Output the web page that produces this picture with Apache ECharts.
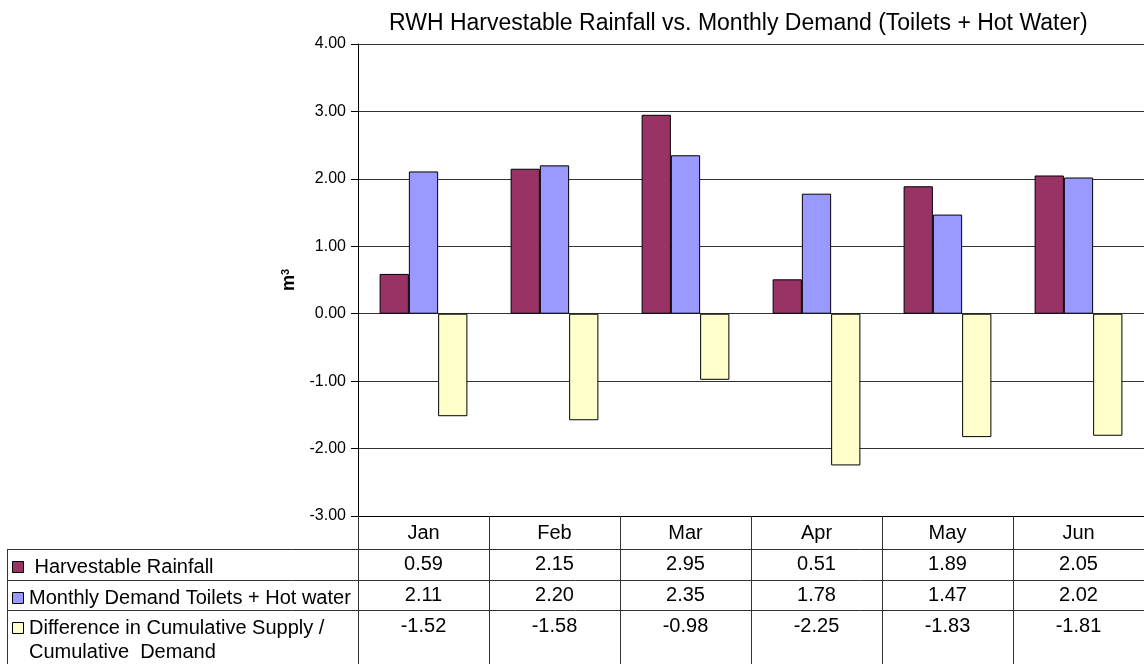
<!DOCTYPE html>
<html>
<head>
<meta charset="utf-8">
<title>RWH Harvestable Rainfall vs. Monthly Demand</title>
<script src="https://cdn.jsdelivr.net/npm/echarts@6/dist/echarts.min.js"></script>
<style>
  html, body { margin: 0; padding: 0; background: #fff; }
  #chart { width: 1144px; height: 664px; }
</style>
</head>
<body>
<div id="chart"></div>
<script>
// Datos
const months = ["Jan", "Feb", "Mar", "Apr", "May", "Jun"];
const harvestable = [0.59, 2.15, 2.95, 0.51, 1.89, 2.05];
const demand = [2.11, 2.2, 2.35, 1.78, 1.47, 2.02];
const difference = [-1.52, -1.58, -0.98, -2.25, -1.83, -1.81];
const seriesNames = [
  "Harvestable Rainfall",
  "Monthly Demand Toilets + Hot water",
  "Difference in Cumulative Supply / Cumulative  Demand",
];
// texto de la tabla (columna izquierda), tal como aparece
const tableRowLabels = [
  [" Harvestable Rainfall"],
  ["Monthly Demand Toilets + Hot water"],
  ["Difference in Cumulative Supply /", "Cumulative  Demand"],
];
const colors = ["#993366", "#9999FF", "#FFFFCC"];
const yMin = -3, yMax = 4, yStep = 1;

const FONT = "'Liberation Sans', Arial, sans-serif";
const chart = echarts.init(document.getElementById("chart"));

const rows = [harvestable, demand, difference];

// Columna de leyenda de la tabla de datos
const legendGraphics = [];
const rowTops = [549, 580, 610];
tableRowLabels.forEach((lines, i) => {
  const top = rowTops[i];
  legendGraphics.push({
    type: "rect",
    shape: { x: 12.5, y: top + 12.5, width: 11, height: 11 },
    style: { fill: colors[i], stroke: "#000", lineWidth: 1 },
  });
  lines.forEach((t, j) => {
    legendGraphics.push({
      type: "text",
      x: 29,
      y: top + 18 + j * 24,
      style: {
        text: t,
        font: "20px " + FONT,
        fill: "#000",
        verticalAlign: "middle",
      },
    });
  });
});

// Lineas horizontales de la tabla
const tableLines = [549, 580, 610].map((y) => ({
  type: "line",
  shape: { x1: 7, y1: y + 0.5, x2: 1144, y2: y + 0.5 },
  style: { stroke: "#333", lineWidth: 1 },
}));
tableLines.push({
  type: "line",
  shape: { x1: 7.5, y1: 549, x2: 7.5, y2: 664 },
  style: { stroke: "#333", lineWidth: 1 },
});

const option = {
  animation: false,
  textStyle: { fontFamily: FONT, color: "#000" },
  title: {
    text: "RWH Harvestable Rainfall vs. Monthly Demand (Toilets + Hot Water)",
    left: 384,
    top: 7,
    textStyle: { fontFamily: FONT, fontSize: 23, fontWeight: "normal", color: "#000" },
  },
  grid: { left: 358, right: 0, top: 44, bottom: 148 },
  xAxis: {
    type: "category",
    data: months,
    position: "bottom",
    axisLine: { onZero: false, lineStyle: { color: "#000", width: 1 } },
    axisTick: { show: true, interval: 0, length: 150, lineStyle: { color: "#333" } },
    axisLabel: {
      interval: 0,
      margin: 2,
      formatter: (value, idx) =>
        [
          "{t|" + value + "}",
          "{t|" + harvestable[idx].toFixed(2) + "}",
          "{t|" + demand[idx].toFixed(2) + "}",
          "{t|" + difference[idx].toFixed(2) + "}",
        ].join("\n"),
      rich: {
        t: { fontFamily: FONT, fontSize: 20, lineHeight: 31, color: "#000" },
      },
    },
  },
  yAxis: {
    type: "value",
    min: yMin,
    max: yMax,
    interval: yStep,
    name: "{m|m}{s|3}",
    nameLocation: "middle",
    nameRotate: 90,
    nameGap: 60,
    nameTextStyle: {
      rich: {
        m: { fontFamily: FONT, fontSize: 18, fontWeight: "bold", color: "#000" },
        s: { fontFamily: FONT, fontSize: 11, fontWeight: "bold", color: "#000", verticalAlign: "top", padding: [0, 0, 6, 0] },
      },
    },
    axisLine: { show: true, lineStyle: { color: "#000", width: 1 } },
    axisTick: { show: true, length: 7, lineStyle: { color: "#000" } },
    axisLabel: {
      margin: 12,
      fontFamily: FONT,
      fontSize: 16,
      color: "#000",
      formatter: (v) => v.toFixed(2),
    },
    splitLine: { show: true, lineStyle: { color: "#333", width: 1 } },
  },
  series: rows.map((data, i) => ({
    name: seriesNames[i],
    type: "bar",
    data: data,
    barGap: "0%",
    barCategoryGap: "33%",
    itemStyle: { color: colors[i], borderColor: "#000", borderWidth: 1 },
  })),
  graphic: legendGraphics.concat(tableLines),
};

chart.setOption(option);
</script>
</body>
</html>
